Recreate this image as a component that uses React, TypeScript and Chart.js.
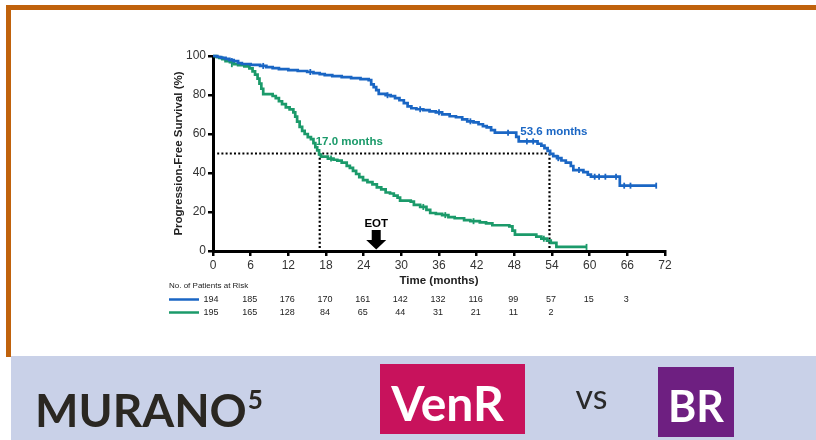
import React, { useEffect, useRef } from "react";
import { Chart, registerables } from "chart.js";

Chart.register(...registerables);

// ---- Data ----
const venrTimes = [0, 0.7, 1.3, 2, 2.6, 3.3, 4, 4.6, 6, 7.5, 8.5, 9.5, 10.5, 12, 13.5, 15, 16, 17, 17.8, 19, 20.5, 22, 23.5, 24.8, 25.2, 25.6, 26, 26.4, 27.5, 28.3, 29, 29.7, 30.4, 31, 31.6, 32.4, 33.5, 34.5, 35.5, 36.5, 37.7, 38.7, 39.7, 40.5, 41.5, 42.3, 43, 43.6, 44.3, 44.9, 48, 48.3, 48.7, 51.7, 52.3, 52.8, 53.3, 53.7, 54.2, 54.8, 55.5, 56.2, 57, 57.4, 59, 59.7, 60.2, 64.8, 70.6];
const venrSurv = [100, 99.5, 99, 98.5, 97.9, 97.4, 96.4, 95.9, 95.4, 94.9, 94.3, 93.8, 93.3, 92.8, 92.3, 91.8, 91.2, 90.7, 90.2, 89.7, 89.2, 88.7, 88.1, 87.6, 85.5, 84, 82.5, 80.6, 79.9, 79.4, 78.4, 77.3, 75.8, 74.2, 73.2, 72.7, 72.2, 71.6, 71.1, 70.1, 69.1, 68.6, 67.5, 66.5, 66, 65, 64, 63.4, 62, 60.7, 60.7, 58.5, 56.2, 55, 54, 52.8, 51.3, 49.8, 48.7, 47.6, 46.4, 45.3, 43.6, 41.5, 40.5, 39.2, 38.1, 33.5, 33.5];

const brTimes = [0, 0.5, 1, 1.5, 2, 2.7, 3.3, 4, 5, 5.8, 6.3, 6.7, 7.1, 7.4, 7.7, 8, 9.5, 10, 10.5, 11, 11.6, 12.2, 12.8, 13.1, 13.4, 13.8, 14.2, 14.6, 15.1, 15.6, 16, 16.3, 16.6, 16.9, 17.2, 18.3, 19.2, 19.8, 20.5, 21.3, 21.8, 22.3, 22.8, 23.3, 23.9, 24.6, 25.4, 26.1, 26.8, 27.5, 28.2, 28.8, 29.4, 29.8, 31.5, 32, 33, 34, 34.6, 35.5, 36.5, 37.5, 38.5, 40, 41, 42.5, 43.5, 44.5, 47.2, 47.7, 48.1, 51.5, 52.3, 53.2, 53.8, 54.7, 59.5];
const brSurv = [100, 99.5, 99, 98.4, 97.4, 96.9, 95.8, 95.3, 94.7, 93.7, 92.1, 90.5, 88.4, 85.8, 83.2, 80.5, 79.5, 78.4, 76.8, 75.3, 73.7, 72.6, 71.1, 68.9, 66.3, 63.7, 61.6, 60, 58.4, 57.4, 55.3, 53.2, 51.6, 49.5, 48.4, 47.4, 46.8, 46.3, 45.3, 43.7, 42.6, 41.1, 39.5, 37.9, 36.3, 35.3, 34.2, 32.6, 31.6, 30, 29.5, 28.4, 27.4, 25.8, 25.3, 23.7, 22.6, 21.1, 19.5, 19, 18.4, 17.4, 16.8, 15.8, 15.3, 14.7, 14.2, 13.2, 12.6, 10.5, 8.4, 7.4, 6.3, 5.3, 4.2, 2.1, 2.1];

const venrCensorTimes = [3, 8, 15.5, 27.8, 33, 36, 41, 47, 50, 51, 55, 58.3, 60.8, 61.5, 62.5, 64.2, 65.5, 66.5, 70.6];
const venrCensorSurv = [97.4, 94.9, 91.8, 79.9, 72.7, 71.1, 66.5, 60.7, 56.2, 56.2, 47.6, 41.5, 38.1, 38.1, 38.1, 38.1, 33.5, 33.5, 33.5];
const brCensorTimes = [3, 18.8, 33.5, 37, 41.5, 52.7, 59.5];
const brCensorSurv = [95.8, 47.4, 22.6, 18.4, 15.3, 6.3, 2.1];

const riskTimes = [0, 6, 12, 18, 24, 30, 36, 42, 48, 54, 60, 66];
const riskVenR = [194, 185, 176, 170, 161, 142, 132, 116, 99, 57, 15, 3];
const riskBR = [195, 165, 128, 84, 65, 44, 31, 21, 11, 2];

const medianVenR = 53.6;
const medianBR = 17.0;
const eotMonth = 26;

const BLUE = "#1a66c4";
const GREEN = "#1b9a6a";
const FONT = '"Liberation Sans", Arial, sans-serif';
const BANNER_FONT = 'Lato, "Open Sans", sans-serif';

const toPts = (xs: number[], ys: number[]) => xs.map((x, i) => ({ x, y: ys[i] }));

const decorPlugin = {
  id: "decor",
  beforeDraw(chart: any) {
    const ctx = chart.ctx;
    const W = chart.width;
    const H = chart.height;
    ctx.save();
    ctx.fillStyle = "#ffffff";
    ctx.fillRect(0, 0, W, H);
    // orange frame
    ctx.fillStyle = "#c0620c";
    ctx.fillRect(6, 5, W - 6, 5);
    ctx.fillRect(6, 5, 5, 352);
    // banner
    ctx.fillStyle = "#c9d1e8";
    ctx.fillRect(11, 356, W - 11, H - 356);
    // MURANO
    ctx.fillStyle = "#2a2722";
    ctx.textBaseline = "alphabetic";
    ctx.textAlign = "left";
    ctx.font = `700 46px ${BANNER_FONT}`;
    ctx.fillText("MURANO", 35, 427);
    const mw = ctx.measureText("MURANO").width;
    ctx.font = `700 26px ${BANNER_FONT}`;
    ctx.fillText("5", 35 + mw + 1, 409);
    // VenR box
    ctx.fillStyle = "#c8125c";
    ctx.fillRect(380, 364, 145, 70);
    ctx.fillStyle = "#ffffff";
    ctx.textAlign = "center";
    ctx.font = `700 48px ${BANNER_FONT}`;
    ctx.fillText("VenR", 447.5, 421);
    // vs
    ctx.fillStyle = "#2a2a2a";
    ctx.font = `400 34px ${BANNER_FONT}`;
    ctx.fillText("vs", 591.5, 409);
    // BR box
    ctx.fillStyle = "#6e1f81";
    ctx.fillRect(658, 367, 76, 70);
    ctx.fillStyle = "#ffffff";
    ctx.font = `700 43px ${BANNER_FONT}`;
    ctx.fillText("BR", 696, 422);
    ctx.restore();
  },
  beforeDatasetsDraw(chart: any) {
    const ctx = chart.ctx;
    const xs = chart.scales.x;
    const ys = chart.scales.y;
    const y50 = ys.getPixelForValue(50);
    const y0 = ys.getPixelForValue(0);
    ctx.save();
    ctx.strokeStyle = "#000";
    ctx.lineWidth = 2.2;
    ctx.setLineDash([2, 2.2]);
    ctx.beginPath();
    ctx.moveTo(xs.getPixelForValue(0), y50);
    ctx.lineTo(xs.getPixelForValue(medianVenR), y50);
    ctx.moveTo(xs.getPixelForValue(medianBR), y50);
    ctx.lineTo(xs.getPixelForValue(medianBR), y0);
    ctx.moveTo(xs.getPixelForValue(medianVenR), y50);
    ctx.lineTo(xs.getPixelForValue(medianVenR), y0);
    ctx.stroke();
    ctx.restore();
  },
  afterDraw(chart: any) {
    const ctx = chart.ctx;
    const xs = chart.scales.x;
    const ys = chart.scales.y;
    ctx.save();
    // median labels
    ctx.font = `700 11.5px ${FONT}`;
    ctx.textBaseline = "middle";
    ctx.textAlign = "left";
    ctx.fillStyle = GREEN;
    ctx.fillText(`${medianBR.toFixed(1)} months`, xs.getPixelForValue(medianBR) - 4, ys.getPixelForValue(55.8));
    ctx.fillStyle = BLUE;
    ctx.textAlign = "center";
    ctx.fillText(`${medianVenR.toFixed(1)} months`, xs.getPixelForValue(54.3), ys.getPixelForValue(61));
    // EOT arrow
    const ex = xs.getPixelForValue(eotMonth);
    const yb = ys.getPixelForValue(0);
    ctx.fillStyle = "#000";
    ctx.fillText("EOT", ex, yb - 27);
    ctx.beginPath();
    ctx.moveTo(ex - 4.5, yb - 21);
    ctx.lineTo(ex + 4.5, yb - 21);
    ctx.lineTo(ex + 4.5, yb - 11);
    ctx.lineTo(ex + 10, yb - 11);
    ctx.lineTo(ex, yb - 1.5);
    ctx.lineTo(ex - 10, yb - 11);
    ctx.lineTo(ex - 4.5, yb - 11);
    ctx.closePath();
    ctx.fill();
    // risk table
    ctx.fillStyle = "#222";
    ctx.textAlign = "left";
    ctx.font = `8px ${FONT}`;
    ctx.fillText("No. of Patients at Risk", 169, 286);
    const rowY = [299.5, 312.5];
    const rows = [riskVenR, riskBR];
    const cols = [BLUE, GREEN];
    rows.forEach((row, r) => {
      ctx.strokeStyle = cols[r];
      ctx.lineWidth = 2.5;
      ctx.setLineDash([]);
      ctx.beginPath();
      ctx.moveTo(169, rowY[r]);
      ctx.lineTo(199, rowY[r]);
      ctx.stroke();
      ctx.fillStyle = "#222";
      ctx.textAlign = "center";
      ctx.font = `9px ${FONT}`;
      row.forEach((n, i) => {
        ctx.fillText(String(n), xs.getPixelForValue(riskTimes[i]) - (i === 0 ? 2 : 1), rowY[r]);
      });
    });
    ctx.restore();
  },
};

export default function App() {
  const ref = useRef<HTMLCanvasElement | null>(null);
  useEffect(() => {
    if (!ref.current) return;
    const chart = new Chart(ref.current, {
      type: "line",
      data: {
        datasets: [
          {
            label: "VenR",
            data: toPts(venrTimes, venrSurv),
            borderColor: BLUE,
            borderWidth: 2.7,
            stepped: true,
            pointRadius: 0,
            fill: false,
            clip: 6,
          },
          {
            label: "BR",
            data: toPts(brTimes, brSurv),
            borderColor: GREEN,
            borderWidth: 2.7,
            stepped: true,
            pointRadius: 0,
            fill: false,
            clip: 6,
          },
          {
            label: "VenR censored",
            data: toPts(venrCensorTimes, venrCensorSurv),
            showLine: false,
            pointStyle: "line",
            rotation: 90,
            pointRadius: 3,
            borderColor: BLUE,
            pointBorderWidth: 1.8,
            clip: 6,
          },
          {
            label: "BR censored",
            data: toPts(brCensorTimes, brCensorSurv),
            showLine: false,
            pointStyle: "line",
            rotation: 90,
            pointRadius: 3,
            borderColor: GREEN,
            pointBorderWidth: 1.8,
            clip: 6,
          },
        ],
      },
      options: {
        responsive: false,
        animation: false,
        events: [],
        layout: { padding: { left: 168, right: 151, top: 56, bottom: 148 } },
        plugins: { legend: { display: false }, tooltip: { enabled: false } },
        scales: {
          x: {
            type: "linear",
            min: 0,
            max: 72,
            afterFit: (s: any) => {
              s.height = 41;
            },
            ticks: { stepSize: 6, color: "#333", font: { family: FONT, size: 12 }, padding: 2, maxRotation: 0 },
            grid: { display: true, drawOnChartArea: false, drawTicks: true, tickLength: 5, color: "#000", lineWidth: 2.5 },
            border: { display: true, color: "#000", width: 3 },
            title: { display: true, text: "Time (months)", color: "#222", font: { family: FONT, size: 11.5, weight: "bold" }, padding: { top: 2, bottom: 4 } },
          },
          y: {
            type: "linear",
            min: 0,
            max: 100,
            afterFit: (s: any) => {
              s.width = 45;
            },
            ticks: { stepSize: 20, color: "#333", font: { family: FONT, size: 12 }, padding: 2 },
            grid: { display: true, drawOnChartArea: false, drawTicks: true, tickLength: 5, color: "#000", lineWidth: 2.5 },
            border: { display: true, color: "#000", width: 3 },
            title: { display: true, text: "Progression-Free Survival (%)", color: "#222", font: { family: FONT, size: 11.5, weight: "bold" }, padding: { top: 4, bottom: 2 } },
          },
        },
      },
      plugins: [decorPlugin],
    });
    return () => chart.destroy();
  }, []);
  return (
    <div style={{ position: "fixed", left: 0, top: 0, width: 816, height: 440 }}>
      <canvas ref={ref} width={816} height={440} style={{ display: "block", width: 816, height: 440 }} />
    </div>
  );
}
